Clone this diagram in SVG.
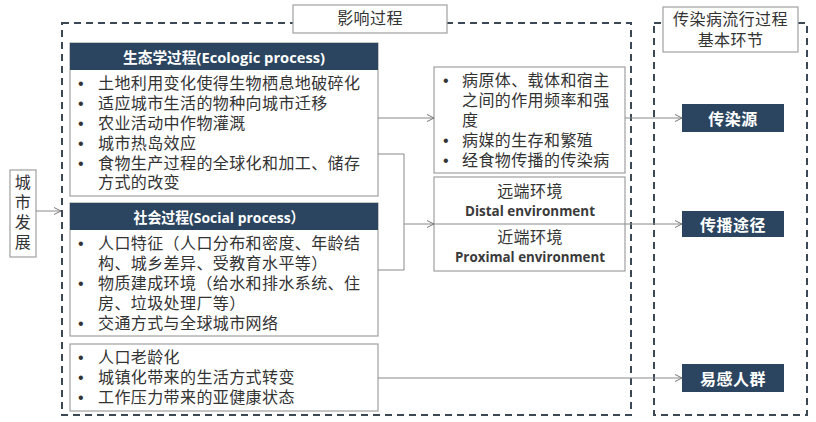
<svg xmlns="http://www.w3.org/2000/svg" width="816" height="422" viewBox="0 0 816 422">
<defs>
<marker id="arr" markerWidth="10" markerHeight="10" refX="9" refY="5" orient="auto" markerUnits="userSpaceOnUse">
<path d="M2,1.5 L9,5 L2,8.5" fill="none" stroke="#7a7a7a" stroke-width="1"/>
</marker>
</defs>
<style>
.dash{fill:none;stroke:#3b4856;stroke-width:2;stroke-dasharray:7 5}
.box{fill:#fff;stroke:#a0a0a0;stroke-width:1.2}
.dark{fill:#2b4560}
.t{font-family:"Liberation Sans","Noto Sans CJK SC",sans-serif;font-size:16px;fill:#333;letter-spacing:0.4px;dominant-baseline:central}
.c{text-anchor:middle}
.h{font-family:"Open Sans","Noto Sans CJK SC",sans-serif;font-size:15px;font-weight:bold;fill:#fff;dominant-baseline:central;text-anchor:middle}
.w{font-family:"Noto Sans CJK SC",sans-serif;font-size:16px;font-weight:bold;fill:#fff;dominant-baseline:central;text-anchor:middle;letter-spacing:0.5px}
.e{font-family:"Open Sans","Noto Sans",sans-serif;font-size:14px;font-weight:bold;fill:#3a3a3a;letter-spacing:0}
.ln{fill:none;stroke:#8a8a8a;stroke-width:1}
</style>
<rect width="816" height="422" fill="#fff"/>

<g id="frame-influence">
<rect class="dash" x="62" y="23" width="569" height="392"/>
<rect class="box" x="293" y="5" width="154" height="28"/>
<text class="t c" x="370" y="18">影响过程</text>
</g>

<g id="frame-stages">
<rect class="dash" x="654" y="23" width="153" height="392"/>
<rect class="box" x="663" y="7" width="135" height="45"/>
<text class="t c"><tspan x="730.5" y="19">传染病流行过程</tspan><tspan x="730.5" y="40">基本环节</tspan></text>
</g>

<g id="node-city">
<rect class="box" x="10" y="170" width="26" height="87"/>
<text class="t c"><tspan x="23" y="182">城</tspan><tspan x="23" y="202">市</tspan><tspan x="23" y="222">发</tspan><tspan x="23" y="242">展</tspan></text>
</g>

<g id="node-ecologic">
<rect class="box" x="70" y="43" width="308" height="153"/>
<rect class="dark" x="70" y="43" width="308" height="27"/>
<text class="h" x="224" y="57" textLength="202" lengthAdjust="spacingAndGlyphs">生态学过程(Ecologic process)</text>
<text class="t"><tspan x="78" y="83">•</tspan><tspan x="98" y="83">土地利用变化使得生物栖息地破碎化</tspan><tspan x="78" y="103">•</tspan><tspan x="98" y="103">适应城市生活的物种向城市迁移</tspan><tspan x="78" y="123">•</tspan><tspan x="98" y="123">农业活动中作物灌溉</tspan><tspan x="78" y="143">•</tspan><tspan x="98" y="143">城市热岛效应</tspan><tspan x="78" y="163">•</tspan><tspan x="98" y="163">食物生产过程的全球化和加工、储存</tspan><tspan x="98" y="182">方式的改变</tspan></text>
</g>

<g id="node-social">
<rect class="box" x="70" y="203" width="308" height="133"/>
<rect class="dark" x="70" y="203" width="308" height="27"/>
<text class="h" x="219" y="217" textLength="171" lengthAdjust="spacingAndGlyphs">社会过程(Social process）</text>
<text class="t"><tspan x="78" y="243">•</tspan><tspan x="98" y="243">人口特征（人口分布和密度、年龄结</tspan><tspan x="98" y="263">构、城乡差异、受教育水平等）</tspan><tspan x="78" y="283">•</tspan><tspan x="98" y="283">物质建成环境（给水和排水系统、住</tspan><tspan x="98" y="303">房、垃圾处理厂等）</tspan><tspan x="78" y="323">•</tspan><tspan x="98" y="323">交通方式与全球城市网络</tspan></text>
</g>

<g id="node-host">
<rect class="box" x="70" y="344" width="308" height="67"/>
<text class="t"><tspan x="78" y="357">•</tspan><tspan x="98" y="357">人口老龄化</tspan><tspan x="78" y="377">•</tspan><tspan x="98" y="377">城镇化带来的生活方式转变</tspan><tspan x="78" y="397">•</tspan><tspan x="98" y="397">工作压力带来的亚健康状态</tspan></text>
</g>

<g id="node-pathogen">
<rect class="box" x="434" y="67" width="191" height="106"/>
<text class="t"><tspan x="443" y="80">•</tspan><tspan x="462" y="80">病原体、载体和宿主</tspan><tspan x="462" y="100">之间的作用频率和强</tspan><tspan x="462" y="120">度</tspan><tspan x="443" y="140">•</tspan><tspan x="462" y="140">病媒的生存和繁殖</tspan><tspan x="443" y="160">•</tspan><tspan x="462" y="160">经食物传播的传染病</tspan></text>
</g>

<g id="node-environment">
<rect class="box" x="434" y="177" width="191" height="94"/>
<text class="t c" x="530" y="191">远端环境</text>
<text class="e" x="465" y="216" textLength="130" lengthAdjust="spacingAndGlyphs">Distal environment</text>
<text class="t c" x="530" y="237">近端环境</text>
<text class="e" x="455" y="262" textLength="150" lengthAdjust="spacingAndGlyphs">Proximal environment</text>
</g>

<g id="node-source">
<rect class="dark" x="682" y="104" width="102" height="28"/>
<text class="w" x="733" y="118">传染源</text>
</g>
<g id="node-route">
<rect class="dark" x="682" y="211" width="102" height="26"/>
<text class="w" x="733" y="224">传播途径</text>
</g>
<g id="node-susceptible">
<rect class="dark" x="682" y="364" width="102" height="28"/>
<text class="w" x="733" y="378">易感人群</text>
</g>

<g id="connectors">
<path class="ln" d="M36,211 H61" marker-end="url(#arr)"/>
<path class="ln" d="M378,118 H434" marker-end="url(#arr)"/>
<path class="ln" d="M378,154 H404 V270 H378"/>
<path class="ln" d="M404,224 H434" marker-end="url(#arr)"/>
<path class="ln" d="M434,224 H682" marker-end="url(#arr)"/>
<path class="ln" d="M625,118 H682" marker-end="url(#arr)"/>
<path class="ln" d="M378,378 H682" marker-end="url(#arr)"/>
</g>
</svg>
